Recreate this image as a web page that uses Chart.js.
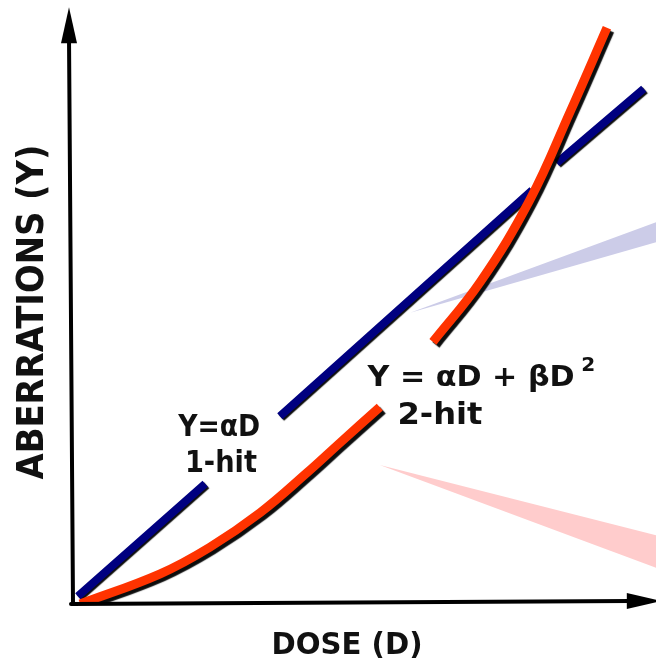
<!DOCTYPE html>
<html>
<head>
<meta charset="utf-8">
<script src="https://cdn.jsdelivr.net/npm/chart.js@4/dist/chart.umd.min.js"></script>
<style>
  html, body { margin: 0; padding: 0; background: #fff; }
  #wrap { width: 656px; height: 664px; }
</style>
</head>
<body>
<div id="wrap"><canvas id="doseChart"></canvas></div>
<script>
// 1-hit line, Y = aD (null = break where the label sits / where the curve crosses)
const oneHitD = [1.0, 22.8, 29.0, 35.6, 78.8, 81.0, 83.0, 97.9];
const oneHitY = [1.3, 19.9, null, 31.1, 68.5, null, 73.0, 85.3];

// 2-hit curve, Y = aD + bD^2
const twoHitD = [1.4, 15.1, 23.6, 32.2, 40.2, 45.9, 52.7, 57.0, 61.8, 69.9, 78.4, 85.3, 91.6];
const twoHitY = [0.0, 5.0, 9.4, 15.1, 21.7, 26.7, 32.6, null, 43.4, 53.3, 66.9, 81.5, 95.4];

// pale wedges on the right
const blueWedgeD = [57.9, 100];
const blueWedgeTop = [48.2, 63.2];
const blueWedgeBottom = [48.2, 59.9];
const redWedgeD = [52.7, 100];
const redWedgeTop = [23.0, 11.4];
const redWedgeBottom = [23.0, 6.0];

const toPts = (xs, ys) => xs.map((x, i) => ({ x: x, y: ys[i] }));

// black ink shadow under the coloured strokes
const inkShadow = {
  id: "inkShadow",
  beforeDatasetDraw(chart, args) {
    const ds = chart.data.datasets[args.index];
    if (!ds.shadowOffset) return;
    const ctx = chart.ctx;
    ctx.save();
    ctx.shadowColor = "rgba(0,0,0,0.95)";
    ctx.shadowBlur = 1;
    ctx.shadowOffsetX = ds.shadowOffset;
    ctx.shadowOffsetY = ds.shadowOffset;
  },
  afterDatasetDraw(chart, args) {
    const ds = chart.data.datasets[args.index];
    if (ds.shadowOffset) chart.ctx.restore();
  },
};

function fitText(ctx, str, x, y, size, width, rot) {
  ctx.save();
  ctx.font = "bold " + size + "px 'DejaVu Sans'";
  const w = ctx.measureText(str).width;
  ctx.translate(x, y);
  if (rot) ctx.rotate(rot);
  ctx.scale(width / w, 1);
  ctx.textAlign = "center";
  ctx.textBaseline = "middle";
  ctx.fillStyle = "#111";
  ctx.fillText(str, 0, 0);
  ctx.restore();
}

// hand drawn axes with arrows + the lettering
const axesAndText = {
  id: "axesAndText",
  afterDraw(chart) {
    const ctx = chart.ctx;
    const xs = chart.scales.x, ys = chart.scales.y;
    const x0 = xs.getPixelForValue(0) + 1;
    const y0 = ys.getPixelForValue(0);
    const yTop = ys.getPixelForValue(98.8);
    const xEnd = xs.getPixelForValue(101);

    ctx.save();
    ctx.strokeStyle = "#000";
    ctx.fillStyle = "#000";
    ctx.lineWidth = 4;
    ctx.lineCap = "round";
    // y axis
    ctx.beginPath();
    ctx.moveTo(x0, y0);
    ctx.lineTo(x0 - 4, yTop + 30);
    ctx.stroke();
    ctx.beginPath();
    ctx.moveTo(x0 - 4, yTop);
    ctx.lineTo(x0 - 12, yTop + 36);
    ctx.lineTo(x0 + 4, yTop + 36);
    ctx.closePath();
    ctx.fill();
    // x axis
    ctx.beginPath();
    ctx.moveTo(x0 - 2, y0);
    ctx.lineTo(xEnd - 30, y0 - 3);
    ctx.stroke();
    ctx.beginPath();
    ctx.moveTo(xEnd, y0 - 3);
    ctx.lineTo(xEnd - 35, y0 - 11);
    ctx.lineTo(xEnd - 35, y0 + 5);
    ctx.closePath();
    ctx.fill();
    ctx.restore();

    // axis titles
    fitText(ctx, "ABERRATIONS (Y)", 33, 312, 38, 335, -Math.PI / 2);
    fitText(ctx, "DOSE (D)", 347, 646, 30, 151, 0);

    // curve labels
    const px = (v) => xs.getPixelForValue(v);
    const py = (v) => ys.getPixelForValue(v);
    fitText(ctx, "Y=αD", px(25.2), py(29.1), 30, 82, 0);
    fitText(ctx, "1-hit", px(25.5), py(23.2), 30, 72, 0);
    fitText(ctx, "Y = αD + βD", px(50.7) + 103, py(37.4), 29, 207, 0);
    fitText(ctx, "2", px(88.4), py(39.4), 20, 14, 0);
    fitText(ctx, "2-hit", px(63.0), py(31.1), 30, 85, 0);
  },
};

new Chart(document.getElementById("doseChart"), {
  type: "line",
  data: {
    datasets: [
      {
        label: "2-hit",
        data: toPts(twoHitD, twoHitY),
        borderColor: "#ff3300",
        borderWidth: 9,
        borderCapStyle: "butt",
        tension: 0.4,
        pointRadius: 0,
        fill: false,
        spanGaps: false,
        shadowOffset: 3,
        order: 0,
      },
      {
        label: "1-hit",
        data: toPts(oneHitD, oneHitY),
        borderColor: "#000080",
        borderWidth: 8,
        borderCapStyle: "butt",
        tension: 0,
        pointRadius: 0,
        fill: false,
        spanGaps: false,
        shadowOffset: 1.5,
        order: 1,
      },
      {
        label: "blue wedge",
        data: toPts(blueWedgeD, blueWedgeTop),
        borderWidth: 0,
        pointRadius: 0,
        backgroundColor: "rgb(204,204,232)",
        fill: 3,
        order: 2,
      },
      {
        label: "blue wedge low",
        data: toPts(blueWedgeD, blueWedgeBottom),
        borderWidth: 0,
        pointRadius: 0,
        fill: false,
        order: 2,
      },
      {
        label: "red wedge",
        data: toPts(redWedgeD, redWedgeTop),
        borderWidth: 0,
        pointRadius: 0,
        backgroundColor: "rgb(255,204,204)",
        fill: 5,
        order: 3,
      },
      {
        label: "red wedge low",
        data: toPts(redWedgeD, redWedgeBottom),
        borderWidth: 0,
        pointRadius: 0,
        fill: false,
        order: 3,
      },
    ],
  },
  options: {
    responsive: true,
    maintainAspectRatio: false,
    animation: false,
    layout: { padding: { left: 72, right: 0, top: 0, bottom: 60 } },
    plugins: { legend: { display: false }, tooltip: { enabled: false } },
    scales: {
      x: { type: "linear", min: 0, max: 100, display: false },
      y: { type: "linear", min: 0, max: 100, display: false },
    },
  },
  plugins: [inkShadow, axesAndText],
});
</script>
</body>
</html>
